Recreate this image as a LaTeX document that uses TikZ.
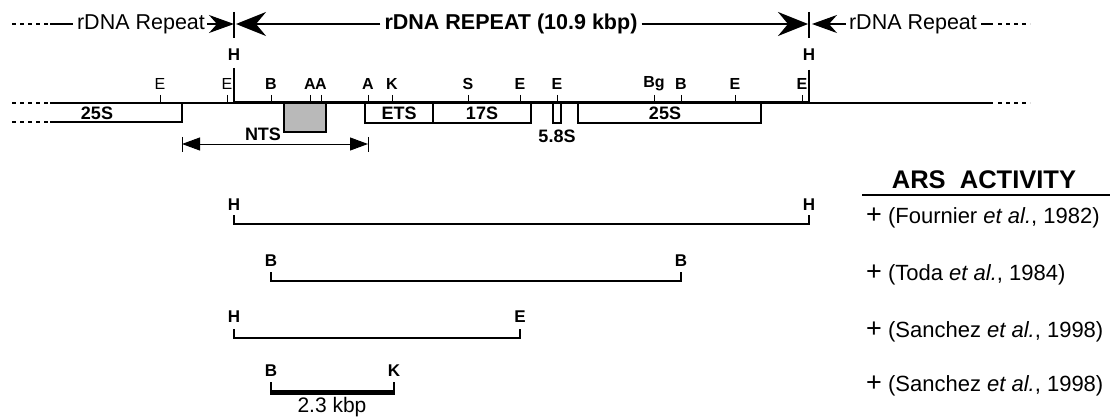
\documentclass[tikz,border=0pt]{standalone}
\usepackage{fontspec}
\setmainfont{Liberation Sans}
\usetikzlibrary{arrows.meta}
\begin{document}
\begin{tikzpicture}[x=1pt,y=-1pt,
  site/.style={font=\fontsize{16}{18}\selectfont\bfseries, inner sep=0pt},
  sitel/.style={font=\fontsize{16}{18}\selectfont, inner sep=0pt},
  fraglbl/.style={font=\fontsize{17}{19}\selectfont\bfseries, inner sep=0pt},
  boxlbl/.style={font=\fontsize{18}{20}\selectfont\bfseries, inner sep=0pt},
  big/.style={font=\fontsize{21.5}{24}\selectfont, inner sep=0pt},
  bigb/.style={font=\fontsize{21.5}{24}\selectfont\bfseries, inner sep=0pt},
  cite/.style={font=\fontsize{22}{24}\selectfont, inner sep=0pt, anchor=west},
  thinl/.style={line width=1.3pt},
  dashl/.style={line width=1.3pt, dash pattern=on 4pt off 4pt},
  mainl/.style={line width=3pt},
  gene/.style={draw, line width=1.5pt, fill=white},
  tickl/.style={line width=0.8pt},
  frag/.style={line width=2pt},
  bigtip/.style={-{Stealth[length=30pt,width=24pt,inset=10pt]}},
  smalltip/.style={-{Stealth[length=25pt,width=18pt,inset=8pt]}},
  ntstip/.style={{Triangle[length=18pt,width=13pt]}-{Triangle[length=18pt,width=13pt]}},
]
\useasboundingbox (0,0) rectangle (1113,417);
\newcommand{\plusmark}{{\fontsize{27}{24}\selectfont\addfontfeature{}+}}

% ---------- top header ----------
\coordinate (hLt) at (234,12); \coordinate (hLb) at (234,38); \coordinate (hLm) at (234,24);
\coordinate (hRt) at (809,12); \coordinate (hRb) at (809,38); \coordinate (hRm) at (809,24);
\draw[line width=1.5pt] (hLt) -- (hLb);
\draw[line width=1.5pt] (hRt) -- (hRb);

\node[big] (lrep) at (141,24) {rDNA Repeat};
\coordinate (ld0) at (12,24); \coordinate (ld1) at (50,24);
\draw[dashl] (ld0) -- (ld1);
\draw[thinl] (ld1) -- ([xshift=-4pt]lrep.west);
\draw[thinl, smalltip] ([xshift=2pt]lrep.east) -- (hLm);

\node[bigb] (main) at (511,24) {rDNA REPEAT (10.9 kbp)};
\draw[line width=2.5pt, bigtip, shorten >=2pt] ([xshift=-4pt]main.west) -- (hLm);
\draw[line width=2.5pt, bigtip, shorten >=1pt] ([xshift=4pt]main.east) -- (hRm);

\node[big] (rrep) at (913,24) {rDNA Repeat};
\coordinate (rd0) at (993,24); \coordinate (rd1) at (1030,24);
\draw[thinl, smalltip, shorten >=3pt] ([xshift=-3pt]rrep.west) -- (hRm);
\draw[thinl] ([xshift=4pt]rrep.east) -- (rd0);
\draw[dashl] ([xshift=5pt]rd0) -- (rd1);

% ---------- H markers ----------
\node[fraglbl] (HL) at (234,55) {H};
\node[fraglbl] (HR) at (809,55) {H};
\coordinate (HLl) at (234,103); \coordinate (HRl) at (809,103);
\coordinate (HLv) at (234,68); \coordinate (HRv) at (809,70);
\draw[line width=1.5pt] (HLv) -- (HLl);
\draw[line width=1.5pt] (HRv) -- (HRl);

% ---------- gene boxes ----------
\draw[gene] (284,103) rectangle (326,132);
\fill[gray!55] (285,104) rectangle (325,131);
\draw[gene] (365,103) rectangle (433,123);
\node[boxlbl] (ets) at (399,113) {ETS};
\draw[gene] (433,103) rectangle (531,123);
\node[boxlbl] (s17) at (482,113) {17S};
\draw[gene] (553,103) rectangle (561,123);
\node[boxlbl] (s58) at (557,136) {5.8S};
\draw[gene] (578,103) rectangle (761,123);
\node[boxlbl] (s25r) at (665,113) {25S};
% left 25S (open to the left)
\coordinate (b25a) at (50,122); \coordinate (b25b) at (182,103);
\draw[line width=1.5pt] (b25a) -| (b25b);
\node[boxlbl] (s25l) at (97,113) {25S};
\coordinate (d25a) at (12,122); \coordinate (d25b) at (12,103);
\draw[dashl] (d25a) -- (b25a);

% ---------- main line ----------
\coordinate (m0) at (50,103); \coordinate (m1) at (993,103); \coordinate (m2) at (1030,103);
\draw[dashl] (d25b) -- (m0);
\draw[thinl] (m0) -- (HLl);
\draw[mainl] (HLl) -- (HRl);
\draw[thinl] (HRl) -- (m1);
\draw[dashl] ([xshift=5pt]m1) -- (m2);

% ---------- restriction sites ----------
\foreach \x/\l/\n in {271/B/sB1,310/A/sA1,321/A/sA2,368/A/sA3,392/K/sK,468/S/sS,520/E/sE3,557/E/sE4,654/Bg/sBg,681/B/sB2,735/E/sE5,802/E/sE6}{
  \node[site] (\n) at (\x,84) {\l};
  \draw[tickl] (\x,95) -- (\x,103);
}
\foreach \x/\n in {160/sE1,227/sE2}{
  \node[sitel] (\n) at (\x,84) {E};
  \draw[tickl] (\x,95) -- (\x,103);
}

% ---------- NTS ----------
\node[boxlbl] (nts) at (263,134) {NTS};
\coordinate (ntsL) at (182,144); \coordinate (ntsR) at (368,144);
\draw[line width=0.9pt] (182,137) -- (182,152);
\draw[line width=0.9pt] (368,137) -- (368,152);
\draw[line width=1pt, ntstip] (ntsL) -- (ntsR);

% ---------- ARS header ----------
\node[font=\fontsize{25.5}{27}\selectfont\bfseries, inner sep=0pt] (ars) at (984,180) {ARS\ \ ACTIVITY};
\coordinate (u0) at (862,195); \coordinate (u1) at (1110,195);
\draw[line width=1.5pt] (u0) -- (u1);

% ---------- fragments ----------
% 1: H - H
\coordinate (f1a) at (234,215); \coordinate (f1b) at (809,215);
\node[fraglbl] (f1al) at (234,205) {H};
\node[fraglbl] (f1bl) at (809,205) {H};
\draw[line width=2.6pt] (f1a) -- ++(0,9) -| (f1b);
\node[cite] (c1) at (866,218) {\plusmark\ (Fournier \textit{et al.}, 1982)};
% 2: B - B
\coordinate (f2a) at (271,272); \coordinate (f2b) at (681,272);
\node[fraglbl] (f2al) at (271,261) {B};
\node[fraglbl] (f2bl) at (681,261) {B};
\draw[frag] (f2a) -- ++(0,9) -| (f2b);
\node[cite] (c2) at (866,275) {\plusmark\ (Toda \textit{et al.}, 1984)};
% 3: H - E
\coordinate (f3a) at (234,329); \coordinate (f3b) at (520,329);
\node[fraglbl] (f3al) at (234,317) {H};
\node[fraglbl] (f3bl) at (520,317) {E};
\draw[frag] (f3a) -- ++(0,9) -| (f3b);
\node[cite] (c3) at (866,332) {\plusmark\ (Sanchez \textit{et al.}, 1998)};
% 4: B - K
\coordinate (f4a) at (271,382); \coordinate (f4b) at (394,382);
\coordinate (f4c) at (271,392); \coordinate (f4d) at (394,392);
\node[fraglbl] (f4al) at (271,371) {B};
\node[fraglbl] (f4bl) at (394,371) {K};
\draw[line width=1.5pt] (f4a) -- (f4c);
\draw[line width=1.5pt] (f4b) -- (f4d);
\draw[line width=5pt] ([xshift=-0.75pt]f4c) -- ([xshift=0.75pt]f4d);
\node[big, font=\fontsize{21}{23}\selectfont] (kbp) at (332,407) {2.3 kbp};
\node[cite] (c4) at (866,386) {\plusmark\ (Sanchez \textit{et al.}, 1998)};
\end{tikzpicture}
\end{document}
